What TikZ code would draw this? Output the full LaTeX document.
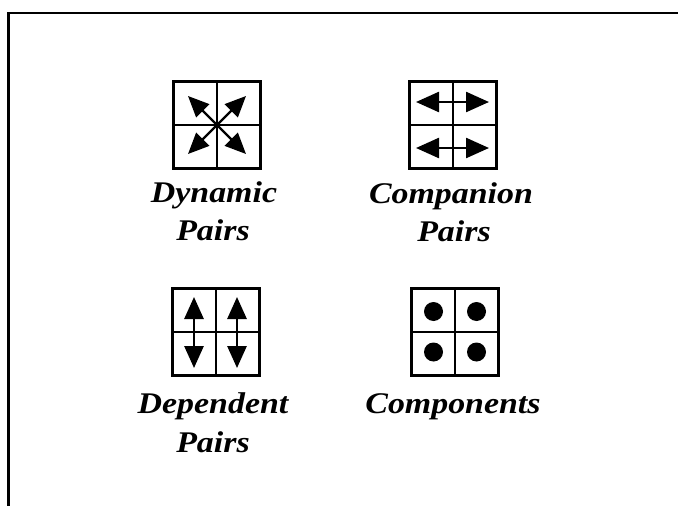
\documentclass[tikz,border=0pt]{standalone}
\usepackage{fontspec}
\setmainfont{Liberation Serif}[FakeStretch=1.13]
\usetikzlibrary{arrows.meta,calc}
\begin{document}
\begin{tikzpicture}[x=1pt,y=-1pt,
  frame/.style={line width=2.8pt,line join=miter},
  gridbox/.style={draw,line width=2.6pt,minimum width=87pt,minimum height=87pt,inner sep=0pt,outer sep=0pt},
  gridline/.style={line width=2.2pt},
  dblarrow/.style={line width=2.4pt,{Triangle[length=#1,width=0.87*#1]}-{Triangle[length=#1,width=0.87*#1]}},
  dot/.style={fill=black},
  lab/.style={font=\fontsize{30}{38}\selectfont\bfseries\itshape,anchor=base,inner sep=0pt}]
\useasboundingbox (0,0) rectangle (678,506);
% frame
\coordinate (fa) at (678,13);
\coordinate (fb) at (8.3,13);
\coordinate (fc) at (8.3,506);
\draw[frame] (fa) -- (fb) -- (fc);
% boxes
\node[gridbox] (dyn) at (217,125) {};
\node[gridbox] (com) at (453,125) {};
\node[gridbox] (dep) at (216,332) {};
\node[gridbox] (cmp) at (455,332) {};
\foreach \b in {dyn,com,dep,cmp}{
  \draw[gridline] (\b.north) -- (\b.south) (\b.west) -- (\b.east);
}
% dynamic pairs
\draw[dblarrow=21pt] ($(dyn)+(-29,-29)$) -- ($(dyn)+(29,29)$);
\draw[dblarrow=21pt] ($(dyn)+(29,-29)$) -- ($(dyn)+(-29,29)$);
% companion pairs
\draw[dblarrow=23pt] ($(com)+(-37,-23)$) -- ($(com)+(36,-23)$);
\draw[dblarrow=23pt] ($(com)+(-37,23)$) -- ($(com)+(36,23)$);
% dependent pairs
\draw[dblarrow=22pt] ($(dep)+(-22,-35)$) -- ($(dep)+(-22,36)$);
\draw[dblarrow=22pt] ($(dep)+(21,-35)$) -- ($(dep)+(21,36)$);
% components
\fill[dot] ($(cmp)+(-21.5,-20.5)$) circle (9.5);
\fill[dot] ($(cmp)+(21.5,-20.5)$) circle (9.5);
\fill[dot] ($(cmp)+(-21.5,20)$) circle (9.5);
\fill[dot] ($(cmp)+(21.5,20)$) circle (9.5);
% labels
\node[lab] (dynA) at (214,202) {Dynamic};
\node[lab] (dynB) at (213,240) {Pairs};
\node[lab] (comA) at (451,203) {Companion};
\node[lab] (comB) at (454,241) {Pairs};
\node[lab] (depA) at (213,413) {Dependent};
\node[lab] (depB) at (213,452) {Pairs};
\node[lab] (cptA) at (453,413) {Components};
\end{tikzpicture}
\end{document}
